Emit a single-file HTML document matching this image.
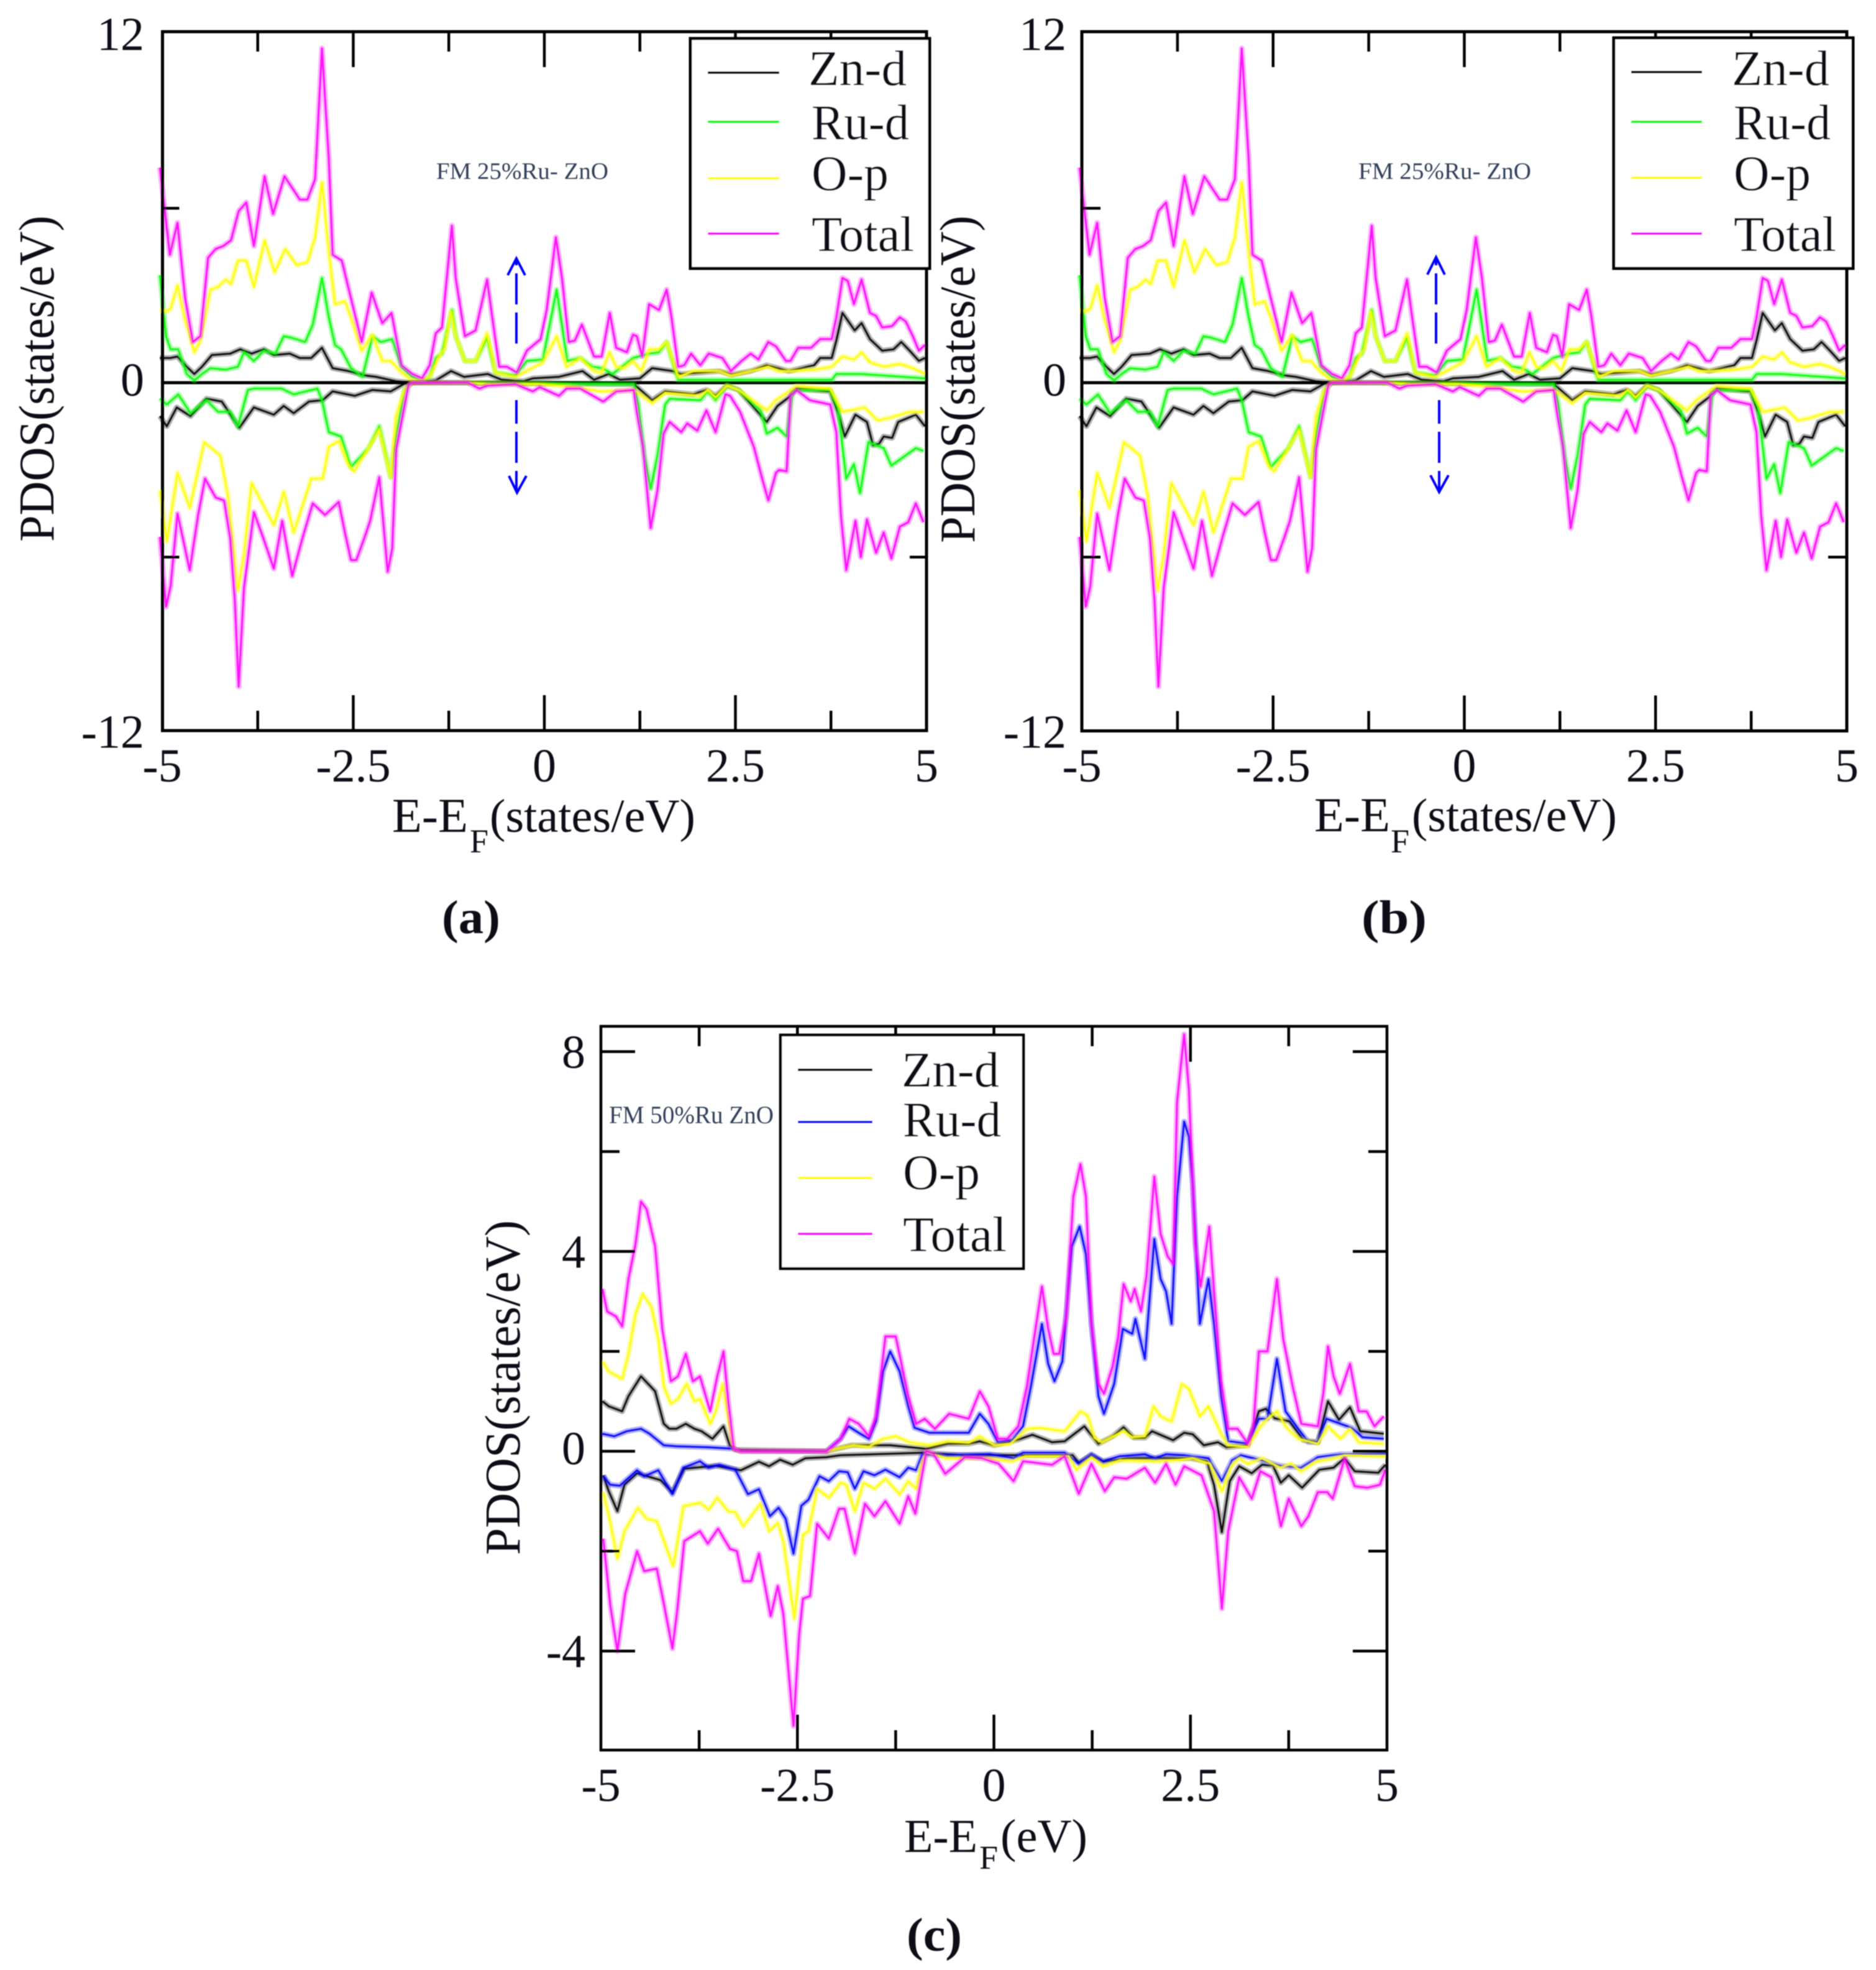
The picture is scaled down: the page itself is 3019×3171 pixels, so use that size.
<!DOCTYPE html>
<html lang="en">
<head>
<meta charset="utf-8">
<title>PDOS of Ru-doped ZnO</title>
<style>
html,body{margin:0;padding:0;background:#fff}
svg{display:block}
text{font-family:"Liberation Serif",serif;fill:#0a0a14}
</style>
</head>
<body>
<svg id="figure" xmlns="http://www.w3.org/2000/svg" width="3019" height="3171" viewBox="0 0 3019 3171">
<defs><filter id="soft" x="0" y="0" width="1" height="1" filterUnits="objectBoundingBox"><feGaussianBlur stdDeviation="0.9"/></filter></defs>
<rect width="3019" height="3171" fill="#fff"/>
<g id="root" filter="url(#soft)">
<g id="panel-a"></g>
<g id="panel-b"></g>
<g id="panel-c"></g>

<g fill="none" stroke="#0000ff" stroke-width="4">
<line x1="831" y1="553" x2="831" y2="418" stroke-dasharray="50 13"/>
<polyline points="817,443 831,416 845,443"/>
<line x1="831" y1="644" x2="831" y2="792" stroke-dasharray="38 13 50 13"/>
<polyline points="819,766 832,793 847,766"/>
</g>
<g fill="none" stroke="#0000ff" stroke-width="4">
<line x1="2311" y1="553" x2="2311" y2="416" stroke-dasharray="50 13"/>
<polyline points="2297,442 2311,414 2325,442"/>
<line x1="2316" y1="644" x2="2316" y2="791" stroke-dasharray="38 13 50 13"/>
<polyline points="2302,765 2316,792 2331,765"/>
</g>

<text x="702" y="288" font-size="38" textLength="277" lengthAdjust="spacingAndGlyphs" style="fill:#33405a">FM 25%Ru- ZnO</text>
<text x="2186" y="288" font-size="38" textLength="278" lengthAdjust="spacingAndGlyphs" style="fill:#33405a">FM 25%Ru- ZnO</text>
<text x="980" y="1808" font-size="40" textLength="265" lengthAdjust="spacingAndGlyphs" style="fill:#33405a">FM 50%Ru ZnO</text>

<text transform="translate(86,872) rotate(-90)" font-size="80" textLength="525" lengthAdjust="spacingAndGlyphs">PDOS(states/eV)</text>
<text transform="translate(1568,874) rotate(-90)" font-size="80" textLength="527" lengthAdjust="spacingAndGlyphs">PDOS(states/eV)</text>
<text transform="translate(836,2503) rotate(-90)" font-size="80" textLength="539" lengthAdjust="spacingAndGlyphs">PDOS(states/eV)</text>

<g>
<text x="631" y="1339" font-size="78" textLength="122" lengthAdjust="spacingAndGlyphs">E-E</text>
<text x="756" y="1372" font-size="54">F</text>
<text x="788" y="1339" font-size="76" textLength="331" lengthAdjust="spacingAndGlyphs">(states/eV)</text>
</g>
<g>
<text x="2115" y="1338" font-size="78" textLength="122" lengthAdjust="spacingAndGlyphs">E-E</text>
<text x="2238" y="1372" font-size="54">F</text>
<text x="2272" y="1338" font-size="76" textLength="330" lengthAdjust="spacingAndGlyphs">(states/eV)</text>
</g>
<g>
<text x="1455" y="2981" font-size="76" textLength="118" lengthAdjust="spacingAndGlyphs">E-E</text>
<text x="1576" y="3008" font-size="54">F</text>
<text x="1610" y="2981" font-size="76" textLength="140" lengthAdjust="spacingAndGlyphs">(eV)</text>
</g>

<text x="711" y="1502" font-size="76" font-weight="700" textLength="94" lengthAdjust="spacingAndGlyphs">(a)</text>
<text x="2191" y="1502" font-size="76" font-weight="700" textLength="105" lengthAdjust="spacingAndGlyphs">(b)</text>
<text x="1459" y="3140" font-size="76" font-weight="700" textLength="89" lengthAdjust="spacingAndGlyphs">(c)</text>

<g>
<rect x="1111" y="62" width="385" height="370" fill="#fff" stroke="#000" stroke-width="5"/>
<line x1="1139" x2="1254" y1="117" y2="117" stroke="#000" stroke-width="4"/>
<text x="1301" y="137" font-size="80" textLength="158" lengthAdjust="spacingAndGlyphs">Zn-d</text>
<line x1="1139" x2="1254" y1="196" y2="196" stroke="#00ff00" stroke-width="4"/>
<text x="1306" y="224" font-size="80" textLength="157" lengthAdjust="spacingAndGlyphs">Ru-d</text>
<line x1="1139" x2="1254" y1="287" y2="287" stroke="#ffff00" stroke-width="4"/>
<text x="1306" y="306" font-size="80" textLength="124" lengthAdjust="spacingAndGlyphs">O-p</text>
<line x1="1139" x2="1254" y1="376" y2="376" stroke="#ff00ff" stroke-width="4"/>
<text x="1306" y="404" font-size="80" textLength="165" lengthAdjust="spacingAndGlyphs">Total</text>
</g>
<g>
<rect x="2597" y="61" width="385" height="371" fill="#fff" stroke="#000" stroke-width="5"/>
<line x1="2625" x2="2739" y1="116" y2="116" stroke="#000" stroke-width="4"/>
<text x="2787" y="137" font-size="80" textLength="157" lengthAdjust="spacingAndGlyphs">Zn-d</text>
<line x1="2625" x2="2739" y1="196" y2="196" stroke="#00ff00" stroke-width="4"/>
<text x="2790" y="224" font-size="80" textLength="156" lengthAdjust="spacingAndGlyphs">Ru-d</text>
<line x1="2625" x2="2739" y1="286" y2="286" stroke="#ffff00" stroke-width="4"/>
<text x="2790" y="306" font-size="80" textLength="124" lengthAdjust="spacingAndGlyphs">O-p</text>
<line x1="2625" x2="2739" y1="376" y2="376" stroke="#ff00ff" stroke-width="4"/>
<text x="2790" y="404" font-size="80" textLength="165" lengthAdjust="spacingAndGlyphs">Total</text>
</g>
<g>
<rect x="1256" y="1666" width="391" height="376" fill="#fff" stroke="#000" stroke-width="4.5"/>
<line x1="1284" x2="1404" y1="1722" y2="1722" stroke="#000" stroke-width="4"/>
<text x="1451" y="1749" font-size="80" textLength="157" lengthAdjust="spacingAndGlyphs">Zn-d</text>
<line x1="1284" x2="1404" y1="1806" y2="1806" stroke="#0000ff" stroke-width="4"/>
<text x="1453" y="1829" font-size="80" textLength="158" lengthAdjust="spacingAndGlyphs">Ru-d</text>
<line x1="1284" x2="1404" y1="1896" y2="1896" stroke="#ffff00" stroke-width="4"/>
<text x="1453" y="1914" font-size="80" textLength="124" lengthAdjust="spacingAndGlyphs">O-p</text>
<line x1="1284" x2="1404" y1="1986" y2="1986" stroke="#ff00ff" stroke-width="4"/>
<text x="1453" y="2014" font-size="80" textLength="167" lengthAdjust="spacingAndGlyphs">Total</text>
</g>
</g>
</svg>

<script>
// ---------- Ticks ----------
const abXMajorTicks = [-2.5, 0, 2.5];
const abXMinorTicks = [-3.75, -1.25, 1.25, 3.75];
const abXTickLabels = ['-5', '-2.5', '0', '2.5', '5'];
const abXTickLabelValues = [-5, -2.5, 0, 2.5, 5];
const abYMinorTicks = [-6, 6];
const abYTickLabels = ['-12', '0', '12'];
const abYTickLabelValues = [-12, 0, 12];
const cXMajorTicks = [-2.5, 0, 2.5];
const cXMinorTicks = [-3.75, -1.25, 1.25, 3.75];
const cXTickLabels = ['-5', '-2.5', '0', '2.5', '5'];
const cXTickLabelValues = [-5, -2.5, 0, 2.5, 5];
const cYMajorTicks = [-4, 0, 4, 8];
const cYMinorTicks = [-2, 2, 6];
const cYTickLabels = ['-4', '0', '4', '8'];
const cYTickLabelValues = [-4, 0, 4, 8];

// ---------- Panels (a) and (b): 25% Ru, spin up ----------
const abZnUpE = [-5.03,-4.89,-4.8,-4.68,-4.58,-4.48,-4.35,-4.11,-3.98,-3.83,-3.67,-3.54,-3.33,-3.2,-3.05,-2.91,-2.77,-2.56,-2.35,-2.2,-1.94,-1.73,-1.42,-1.22,-1.05,-.74,-.56,-.27,-.15,.19,.5,.65,.84,.99,1.25,1.41,1.68,1.79,2.29,2.45,2.7,2.91,3.2,3.53,3.61,3.76,3.82,3.9,4.06,4.15,4.26,4.42,4.57,4.67,4.78,4.9,4.98];
const abZnUpV = [.85,.85,.9,.55,.3,.55,.95,1,1.15,1,1.15,.95,1,.85,.85,1.2,.5,.4,.25,.2,.05,0,.08,.4,.2,.3,.1,.05,.15,.2,.4,.1,.3,.1,.15,.5,.4,.3,.4,.28,.4,.6,.4,.6,.85,.85,1.45,2.4,1.8,2.05,1.5,1.1,1.15,1.4,1.1,.75,.85];
const abRuUpE = [-5.03,-4.95,-4.89,-4.79,-4.68,-4.58,-4.48,-4.37,-4.17,-4.01,-3.93,-3.8,-3.67,-3.52,-3.41,-3.31,-3.13,-3.03,-2.91,-2.82,-2.74,-2.66,-2.53,-2.38,-2.25,-2.14,-1.99,-1.87,-1.73,-1.6,-1.5,-1.42,-1.34,-1.21,-1.16,-1.04,-.9,-.75,-.64,-.38,-.23,-.02,.16,.3,.47,.63,.76,.89,1.16,1.37,1.5,1.6,1.75,3.76,3.82,4.15,4.98];
const abRuUpV = [3.7,1.6,1.15,1.15,.3,.08,.3,.5,.45,.55,1.05,.75,1.1,1,1.6,1.55,1.4,2,3.6,2.25,1.3,1.15,.5,.2,1.6,1.4,1.5,.55,.2,.08,.2,.85,1,2.5,1.6,.75,.75,1.55,.35,.25,.75,.8,3.2,.75,.85,.55,.5,.3,.85,1,1.05,1.4,.1,.1,.3,.3,.15];
const abOUpE = [-5.03,-4.95,-4.89,-4.8,-4.71,-4.58,-4.5,-4.37,-4.27,-4.17,-4.1,-4.01,-3.9,-3.8,-3.66,-3.53,-3.39,-3.24,-3.1,-3,-2.91,-2.82,-2.74,-2.61,-2.53,-2.39,-2.25,-2.12,-2.01,-1.87,-1.73,-1.6,-1.5,-1.39,-1.31,-1.22,-1.16,-1.04,-.9,-.75,-.64,-.38,-.02,.16,.29,.47,.65,.75,.85,.94,1.04,1.16,1.27,1.37,1.5,1.6,1.75,1.95,2.29,2.44,2.7,2.93,3.07,3.22,3.53,3.76,3.9,4.05,4.15,4.26,4.44,4.65,4.82,4.98];
const abOUpV = [2.5,2.45,2.55,3.35,2.25,1.05,1.45,3.2,3.3,3.55,3.4,4.2,4.2,3.3,4.9,3.8,4.6,4.05,4.15,5,6.9,4.5,2.7,2.8,2.25,1.1,1.65,.75,.75,.35,.08,.1,.2,.85,1.15,2.45,1.6,.75,.75,1.7,.35,.2,.7,1.6,.55,.85,.4,.35,1.05,.55,.5,.75,.4,1.15,1.15,1.4,.2,.4,.4,.25,.4,.55,.4,.4,.45,.55,.9,.8,1.05,.7,.55,.65,.5,.3];
const abTotalUpE = [-5.03,-4.9,-4.8,-4.7,-4.6,-4.5,-4.4,-4.3,-4.2,-4.1,-4,-3.9,-3.8,-3.66,-3.55,-3.4,-3.2,-3.1,-3,-2.91,-2.82,-2.77,-2.65,-2.53,-2.39,-2.26,-2.12,-2,-1.87,-1.73,-1.6,-1.5,-1.42,-1.34,-1.21,-1.16,-1.04,-.9,-.75,-.68,-.59,-.49,-.36,-.23,-.05,.03,.15,.23,.32,.4,.49,.65,.75,.855,.94,1.08,1.16,1.21,1.28,1.37,1.5,1.6,1.66,1.75,1.83,1.92,2.04,2.15,2.33,2.44,2.58,2.7,2.8,2.93,3.03,3.16,3.22,3.32,3.49,3.61,3.76,3.82,3.9,3.97,4.05,4.15,4.26,4.34,4.42,4.55,4.65,4.73,4.82,4.9,4.98];
const abTotalUpV = [7.4,4.4,5.5,2.9,1.4,1.6,4.3,4.6,4.7,4.9,5.9,6.2,4.7,7.1,5.8,7.1,6.3,6.3,7,11.5,7.7,4.4,4.2,2.9,1.4,3.1,2.05,2.4,.6,.3,.15,.6,1.7,1.9,5.4,3.6,1.6,1.8,3.55,2.2,.55,.55,.35,1.1,1.5,2.5,5,3.6,1.4,1.45,2,.9,.9,2.4,1.2,1.05,1.65,1.6,.9,2.7,2.5,3.2,2.3,.55,.6,1,.6,1,.85,.4,.75,1,.8,1.4,1.25,.75,.75,1.2,1.2,1.5,1.5,2.25,3.6,3.5,2.7,3.55,2.4,2.3,1.9,1.95,2.25,2.1,1.6,1.1,1.3];

// ---------- Panels (a) and (b): 25% Ru, spin down ----------
const abZnDownE = [-5.03,-4.94,-4.81,-4.63,-4.42,-4.22,-3.99,-3.8,-3.54,-3.41,-3.28,-3.08,-2.9,-2.77,-2.48,-2.25,-2.01,-1.83,-1.73,-1,1.17,1.41,1.58,1.95,2.12,2.24,2.39,2.54,2.91,3.05,3.2,3.3,3.74,3.84,3.93,4.07,4.22,4.3,4.38,4.44,4.55,4.63,4.86,4.98];
const abZnDownV = [-1.15,-1.5,-.85,-1.15,-.55,-.65,-1.55,-.85,-1.1,-.8,-1.05,-.65,-.6,-.3,-.45,-.25,-.3,-.03,0,0,-.05,-.6,-.3,-.4,-.25,-.45,-.1,-.25,-1.35,-.8,-.5,-.2,-.3,-1,-1.85,-1.1,-1.35,-2.15,-2.1,-1.85,-1.9,-1.35,-1.1,-1.5];
const abRuDownE = [-5.03,-4.94,-4.79,-4.63,-4.42,-4.27,-4.11,-4.01,-3.88,-3.8,-3.44,-3.28,-2.97,-2.91,-2.82,-2.66,-2.53,-2.3,-2.16,-2.01,-1.94,-1.83,-1.73,.0,1.17,1.23,1.31,1.39,1.48,1.58,1.64,2.04,2.14,2.24,2.39,2.54,2.83,2.91,3.05,3.17,3.25,3.74,3.84,3.95,4.05,4.13,4.24,4.44,4.54,4.86,4.96];
const abRuDownV = [-.55,-.75,-.4,-1.05,-.6,-1,-1,-1.5,-.25,-.2,-.2,-.4,-.2,-.6,-1.7,-1.85,-2.9,-2.25,-1.5,-3.25,-1.8,-.25,0,-.03,-.05,-.75,-2.5,-3.65,-2.5,-.75,-.55,-.6,-.3,-.6,-.1,-.25,-.95,-1.75,-1.55,-1.85,-.25,-.25,-.85,-3.3,-2.8,-3.8,-2.05,-2.25,-2.85,-2.25,-2.35];
const abODownE = [-5.03,-4.94,-4.8,-4.64,-4.45,-4.24,-4.14,-4.01,-3.93,-3.83,-3.54,-3.41,-3.28,-3.05,-2.9,-2.82,-2.69,-2.56,-2.49,-2.3,-2.16,-2.01,-1.94,-1.83,-1.73,-1,-.7,-.1,.3,.75,1.17,1.41,1.58,2.04,2.14,2.24,2.39,2.54,2.91,3.03,3.2,3.3,3.74,3.9,4.19,4.36,4.53,4.78,4.96];
const abODownV = [-3.7,-5.45,-3.1,-4.3,-2.05,-2.5,-3.9,-7.15,-5.9,-3.45,-4.9,-3.75,-5.15,-3.3,-3.3,-2.2,-2,-2.85,-3.05,-2.25,-1.6,-3.25,-1.15,-.25,0,0,-.05,-.05,-.12,-.3,-.25,-.7,-.35,-.45,-.25,-.5,-.1,-.25,-.95,-.6,-.3,-.12,-.2,-1,-.85,-1.3,-1.2,-1,-1];
const abTotalDownE = [-5.03,-4.95,-4.89,-4.8,-4.64,-4.53,-4.44,-4.3,-4.19,-4.11,-4.05,-4,-3.93,-3.8,-3.67,-3.54,-3.43,-3.3,-3.16,-3.03,-2.87,-2.69,-2.61,-2.53,-2.46,-2.35,-2.28,-2.16,-2.05,-1.99,-1.94,-1.86,-1.78,-1.73,-1,-.85,-.75,-.38,-.15,-.06,.19,.29,.47,.77,.94,1.17,1.21,1.29,1.39,1.48,1.56,1.64,1.79,1.87,2,2.12,2.24,2.37,2.43,2.56,2.74,2.85,2.93,3.03,3.07,3.17,3.22,3.3,3.47,3.74,3.82,3.88,3.95,4.07,4.14,4.22,4.34,4.44,4.54,4.65,4.76,4.86,4.96];
const abTotalDownV = [-5.3,-7.7,-7,-4.5,-6.45,-4.55,-3.3,-3.95,-4.05,-5.35,-7.5,-10.45,-7.05,-4.45,-5.4,-6.4,-4.75,-6.65,-5.3,-4.15,-4.55,-4.1,-5.15,-6.1,-6.1,-5.3,-4.75,-3.25,-6.5,-5.7,-2.3,-1.2,-.1,0,0,-.2,-.1,-.05,-.3,-.15,-.45,-.2,-.2,-.65,-.3,-.25,-1,-2.2,-5,-3.7,-1.75,-1.35,-1.7,-1.4,-1.65,-.95,-1.7,-.4,-.45,-1,-2.2,-3.3,-4.05,-3.1,-3,-3.05,-.45,-.25,-.6,-.75,-1.7,-4.55,-6.45,-4.75,-6,-4.7,-5.85,-5.15,-6.05,-4.95,-4.8,-4.15,-4.8];

// ---------- Panel (c): 50% Ru, spin up ----------
const cZnUpE = [-4.98,-4.9,-4.73,-4.65,-4.49,-4.31,-4.2,-4.13,-4.04,-3.92,-3.81,-3.72,-3.58,-3.44,-3.36,-3.29,-2.13,-1.81,-1.32,-.86,-.59,-.32,-.18,0,.28,.49,.74,.9,1.15,1.33,1.51,1.65,1.78,1.92,2.01,2.28,2.42,2.53,2.67,2.85,2.96,3.23,3.37,3.46,3.57,3.76,3.94,4.12,4.25,4.39,4.53,4.66,4.96];
const cZnUpV = [1,.9,.8,1.1,1.5,1.2,.55,.45,.45,.55,.45,.4,.25,.5,.12,.03,0,.12,.12,.05,.15,.15,.2,.12,.22,.33,.18,.2,.5,.15,.3,.48,.27,.27,.4,.22,.37,.34,.12,.18,.08,.12,.8,.85,.66,.6,.22,.18,1,.63,.88,.4,.35];
const cRuUpE = [-4.98,-4.83,-4.67,-4.49,-4.38,-4.2,-4.04,-3.63,-3.31,-3.22,-2.13,-1.95,-1.85,-1.72,-1.59,-1.5,-1.41,-1.32,-1.2,-1.09,-1.01,-.82,-.32,-.18,-.07,.05,.23,.37,.47,.61,.69,.77,.87,.99,1.09,1.17,1.24,1.33,1.4,1.53,1.64,1.76,1.8,1.92,2.04,2.12,2.19,2.26,2.33,2.42,2.48,2.53,2.62,2.73,2.8,2.89,2.98,3.23,3.37,3.48,3.6,3.71,3.87,4,4.12,4.23,4.55,4.69,4.96];
const cRuUpV = [.35,.3,.4,.45,.35,.12,.1,.08,.05,0,0,.25,.5,.37,.25,.6,1.6,2,1.6,.9,.47,.37,.37,.75,.55,.18,.22,.5,1.3,2.55,1.75,1.4,1.8,4.1,4.5,3.95,2.55,1.1,.75,1.35,2.45,2.35,2.65,1.85,4.25,3.45,3.2,2.55,5.1,6.6,6.3,5.35,2.55,3.45,2.55,1.1,.2,.15,.65,.65,1.85,.8,.45,.18,.18,.65,.47,.28,.25];
const cOUpE = [-4.98,-4.9,-4.73,-4.65,-4.56,-4.47,-4.36,-4.27,-4.2,-4.11,-4.02,-3.91,-3.81,-3.74,-3.61,-3.54,-3.45,-3.38,-3.31,-3.22,-2.13,-2,-1.79,-1.59,-1.41,-1.25,-1.07,-.82,-.59,-.32,-.18,0,.21,.42,.58,.9,1.1,1.19,1.28,1.37,1.58,1.65,1.76,1.92,2.03,2.12,2.26,2.39,2.48,2.62,2.73,2.89,2.98,3.23,3.39,3.48,3.6,3.71,3.87,4.12,4.25,4.41,4.53,4.64,4.96];
const cOUpV = [1.8,1.6,1.45,1.95,2.75,3.15,2.9,2.25,1.3,.95,1.05,1.35,1,1.05,.55,.8,1.35,.65,.05,0,0,.05,.12,.09,.25,.3,.18,.12,.2,.17,.3,.12,.15,.45,.47,.4,.8,.72,.27,.18,.35,.4,.28,.3,.9,.7,.6,1.35,1.25,.7,.9,.35,.12,.09,.5,.65,.8,.5,.25,.15,.5,.25,.45,.18,.15];
const cTotalUpE = [-4.98,-4.92,-4.81,-4.73,-4.65,-4.56,-4.49,-4.42,-4.31,-4.22,-4.11,-4.02,-3.92,-3.83,-3.74,-3.61,-3.52,-3.44,-3.38,-3.31,-3.22,-2.13,-1.95,-1.84,-1.72,-1.59,-1.5,-1.38,-1.25,-1.09,-.99,-.88,-.75,-.57,-.32,-.18,-.07,.05,.17,.31,.42,.51,.61,.69,.76,.83,.92,1.01,1.1,1.17,1.24,1.33,1.4,1.51,1.58,1.65,1.74,1.79,1.87,1.94,2.04,2.12,2.21,2.28,2.33,2.42,2.48,2.56,2.63,2.74,2.8,2.89,2.98,3.1,3.23,3.3,3.37,3.48,3.6,3.68,3.8,3.91,4.12,4.19,4.25,4.32,4.4,4.53,4.64,4.74,4.84,4.96];
const cTotalUpV = [3.25,2.8,2.7,2.5,3.45,4.15,5,4.85,4.1,2.45,1.4,1.5,1.95,1.4,1.5,.8,1.5,2,1,.05,0,0,.25,.65,.55,.3,.7,2.3,2.3,1.1,.55,.65,.45,.75,.65,1.2,.9,.25,.25,.5,1.3,2.25,3.3,2.45,1.95,1.95,2.7,5.1,5.75,5.1,2.55,1.35,1.15,1.7,2.3,3.35,3,3.25,2.8,3.5,5.5,4.35,3.9,3.75,7,8.35,7.25,4.15,3.3,4.5,3.2,1.4,.45,.45,.15,.5,2,2,3.45,2.25,1.3,.55,.5,1.15,2.1,1.5,1.15,1.75,.8,.8,.5,.7];

// ---------- Panel (c): 50% Ru, spin down ----------
const cZnDownE = [-4.97,-4.9,-4.79,-4.7,-4.54,-4.24,-4.09,-3.94,-3.54,-3.22,-2.99,-2.86,-2.72,-2.56,-2.4,-2.13,-1.95,-.9,-.4,.1,1,1.08,1.24,1.39,1.69,2.5,2.71,2.8,2.9,3,3.12,3.28,3.41,3.55,3.65,3.75,3.92,4.14,4.32,4.46,4.59,4.89,4.98];
const cZnDownV = [-.48,-.8,-1.2,-.67,-.44,-.58,-.82,-.35,-.29,-.38,-.21,-.3,-.17,-.27,-.14,-.12,-.08,-.03,-.08,-.08,-.08,-.23,-.08,-.21,-.14,-.14,-.2,-.67,-1.62,-.6,-.3,-.44,-.27,-.29,-.63,-.48,-.73,-.37,-.33,-.14,-.4,-.43,-.27];
const cRuDownE = [-4.97,-4.88,-4.76,-4.54,-4.45,-4.27,-4.09,-3.95,-3.74,-3.63,-3.49,-3.29,-3.13,-2.99,-2.85,-2.74,-2.65,-2.55,-2.45,-2.36,-2.22,-2.1,-1.97,-1.86,-1.77,-1.66,-1.52,-1.38,-1.2,-1.09,-.99,-.91,-.6,-.05,.25,.37,.9,1.08,1.24,1.39,1.6,1.92,2.05,2.19,2.42,2.73,2.9,3.03,3.14,3.41,3.64,3.91,4.12,4.41,4.98];
const cRuDownV = [-.5,-.67,-.69,-.38,-.5,-.38,-.86,-.33,-.2,-.33,-.27,-.37,-.86,-.76,-1.3,-1.13,-1.35,-2.05,-1.09,-.97,-.5,-.6,-.4,-.42,-.75,-.4,-.48,-.37,-.52,-.33,-.38,-.06,-.08,-.06,-.14,-.03,-.03,-.25,-.06,-.2,-.1,-.06,-.14,-.06,-.08,-.14,-.6,-.18,-.08,-.18,-.29,-.33,-.12,-.06,-.05];
const cODownE = [-4.97,-4.88,-4.79,-4.7,-4.53,-4.42,-4.29,-4.08,-3.95,-3.74,-3.63,-3.52,-3.38,-3.29,-3.19,-2.97,-2.86,-2.75,-2.68,-2.54,-2.43,-2.36,-2.25,-2.1,-1.95,-1.88,-1.77,-1.66,-1.52,-1.38,-1.2,-1.09,-.99,-.93,-.86,-.6,-.1,.23,.4,.95,1.05,1.24,1.39,1.6,2.06,2.3,2.53,2.75,2.9,3.02,3.12,3.23,3.41,3.64,3.78,3.91,4.09,4.32,4.46,4.98];
const cODownV = [-.82,-1.43,-2.15,-1.6,-1.13,-1.35,-1.4,-2.3,-1.1,-1.03,-1.17,-.93,-1.2,-1.22,-1.5,-1.05,-1.6,-1.43,-1.8,-3.35,-1.67,-1.6,-.75,-.93,-.63,-.67,-1.2,-.63,-.75,-.55,-.86,-.6,-.75,-.3,-.02,-.14,-.14,-.2,-.1,-.1,-.37,-.12,-.3,-.18,-.2,-.18,-.14,-.25,-.8,-.29,-.14,-.25,-.14,-.33,-.25,-.4,-.21,-.14,-.08,-.1];
const cTotalDownE = [-4.97,-4.88,-4.79,-4.69,-4.54,-4.45,-4.29,-4.2,-4.09,-4.03,-3.94,-3.74,-3.64,-3.51,-3.36,-3.27,-3.19,-3.09,-2.99,-2.84,-2.75,-2.68,-2.55,-2.48,-2.43,-2.34,-2.25,-2.1,-1.97,-1.9,-1.77,-1.64,-1.52,-1.38,-1.2,-1.09,-1,-.93,-.86,-.77,-.62,-.37,-.15,.06,.25,.37,.74,.9,1.08,1.24,1.41,1.53,1.69,1.92,2.05,2.19,2.31,2.42,2.64,2.8,2.9,2.98,3.12,3.28,3.39,3.53,3.65,3.75,3.91,4,4.12,4.24,4.31,4.46,4.59,4.75,4.91,4.98];
const cTotalDownV = [-1.75,-3.1,-4,-2.85,-2,-2.4,-2.35,-3.05,-3.95,-3.2,-1.8,-1.6,-1.85,-1.55,-1.95,-2,-2.6,-2.6,-2.05,-3.3,-2.7,-3.25,-5.5,-3.7,-2.95,-2.9,-1.45,-1.75,-1.15,-1.15,-2.05,-1.05,-1.3,-1,-1.45,-.9,-1.25,-.6,0,-.05,-.45,-.12,-.14,-.25,-.6,-.2,-.27,-.1,-.85,-.25,-.8,-.52,-.55,-.33,-.63,-.25,-.67,-.3,-.48,-1.2,-3.15,-1.6,-.52,-.95,-.4,-.52,-1.5,-.95,-1.5,-1.3,-.82,-.82,-.95,-.15,-.7,-.73,-.67,-.37];

// ---------- Drawing ----------
const SVG_NS = 'http://www.w3.org/2000/svg';
function make(tag, attrs, parent) {
  const node = document.createElementNS(SVG_NS, tag);
  for (const key in attrs) node.setAttribute(key, attrs[key]);
  parent.appendChild(node);
  return node;
}
function xAxis(panel) { return e => panel.zeroX + e * panel.unitX; }
function yAxis(panel) { return v => panel.zeroY - v * panel.unitY; }

function drawCurve(parent, panel, energies, values, color, name) {
  const x = xAxis(panel), y = yAxis(panel);
  const n = Math.min(energies.length, values.length);
  const pts = [];
  for (let i = 0; i < n; i++) pts.push(x(energies[i]).toFixed(1) + ',' + y(values[i]).toFixed(1));
  const group = make('g', {}, parent);
  
  
  const halo = make('polyline', {points: pts.join(' '), fill: 'none', stroke: color, 'stroke-width': 9, 'stroke-opacity': 0.3, 'stroke-linejoin': 'round'}, group);
  
  
  const core = make('polyline', {points: pts.join(' '), fill: 'none', stroke: color, 'stroke-width': 3, 'stroke-opacity': 0.9, 'stroke-linejoin': 'round'}, group);
  
  
}

function drawFrame(parent, panel, xMajor, xMinor, yMajor, yMinor, xLabels, xLabelValues, yLabels, yLabelValues) {
  const x = xAxis(panel), y = yAxis(panel);
  const tick = (x1, y1, x2, y2, name) => {
    const t = make('line', {x1: x1, y1: y1, x2: x2, y2: y2, stroke: '#000', 'stroke-width': 4.5}, parent);
    
    
  };
  xMajor.forEach(e => {
    tick(x(e), panel.top, x(e), panel.top + panel.xMajorLen, 'x-major-tick-top');
    tick(x(e), panel.bottom, x(e), panel.bottom - panel.xMajorLen, 'x-major-tick-bottom');
  });
  xMinor.forEach(e => {
    tick(x(e), panel.top, x(e), panel.top + panel.xMinorLen, 'x-minor-tick-top');
    tick(x(e), panel.bottom, x(e), panel.bottom - panel.xMinorLen, 'x-minor-tick-bottom');
  });
  yMajor.forEach(v => {
    tick(panel.left, y(v), panel.left + panel.yMajorLen, y(v), 'y-major-tick-left');
    tick(panel.right, y(v), panel.right - panel.yMajorLen, y(v), 'y-major-tick-right');
  });
  yMinor.forEach(v => {
    tick(panel.left, y(v), panel.left + panel.yMinorLen, y(v), 'y-minor-tick-left');
    tick(panel.right, y(v), panel.right - panel.yMinorLen, y(v), 'y-minor-tick-right');
  });
  const frame = make('rect', {x: panel.left, y: panel.top, width: panel.right - panel.left, height: panel.bottom - panel.top, fill: 'none', stroke: '#000', 'stroke-width': panel.frameWidth}, parent);
  
  
  xLabels.forEach((label, i) => {
    const t = make('text', {x: x(xLabelValues[i]), y: panel.xLabelY, 'font-size': 76, 'text-anchor': 'middle'}, parent);
    
    
    t.textContent = label;
  });
  yLabels.forEach((label, i) => {
    const v = yLabelValues[i];
    const t = make('text', {x: panel.yLabelX, y: y(v) + (v === 0 ? 21 : 26), 'font-size': 76, 'text-anchor': 'end'}, parent);
    
    
    t.textContent = label;
  });
}

const panelA = {left: 261.5, right: 1491, top: 51, bottom: 1176, zeroX: 876, unitX: 123, zeroY: 616, unitY: 46.8,
  xMajorLen: 57, xMinorLen: 32, yMajorLen: 50, yMinorLen: 27, frameWidth: 5, xLabelY: 1258, yLabelX: 232};
const panelB = {left: 1741, right: 2972, top: 51, bottom: 1176.5, zeroX: 2356.5, unitX: 123.1, zeroY: 616, unitY: 46.8,
  xMajorLen: 57, xMinorLen: 32, yMajorLen: 50, yMinorLen: 30, frameWidth: 5, xLabelY: 1258, yLabelX: 1716};
const panelC = {left: 967, right: 2232, top: 1652, bottom: 2817, zeroX: 1599.5, unitX: 126.5, zeroY: 2336, unitY: 80.4,
  xMajorLen: 57, xMinorLen: 32, yMajorLen: 55, yMinorLen: 30, frameWidth: 4.5, xLabelY: 2899, yLabelX: 942};

function drawAB(groupId, panel) {
  const g = document.getElementById(groupId);
  const x = xAxis(panel), y = yAxis(panel);
  const zero = make('line', {x1: x(-5), x2: x(5), y1: y(0), y2: y(0), stroke: '#000', 'stroke-width': 5}, g);
  
  
  drawCurve(g, panel, abZnUpE, abZnUpV, '#000000', 'zn-d-spin-up');
  drawCurve(g, panel, abRuUpE, abRuUpV, '#00ff00', 'ru-d-spin-up');
  drawCurve(g, panel, abOUpE, abOUpV, '#ffff00', 'o-p-spin-up');
  drawCurve(g, panel, abZnDownE, abZnDownV, '#000000', 'zn-d-spin-down');
  drawCurve(g, panel, abRuDownE, abRuDownV, '#00ff00', 'ru-d-spin-down');
  drawCurve(g, panel, abODownE, abODownV, '#ffff00', 'o-p-spin-down');
  drawCurve(g, panel, abTotalUpE, abTotalUpV, '#ff00ff', 'total-spin-up');
  drawCurve(g, panel, abTotalDownE, abTotalDownV, '#ff00ff', 'total-spin-down');
  drawFrame(g, panel, abXMajorTicks, abXMinorTicks, [], abYMinorTicks, abXTickLabels, abXTickLabelValues, abYTickLabels, abYTickLabelValues);
}
drawAB('panel-a', panelA);
drawAB('panel-b', panelB);

const groupC = document.getElementById('panel-c');
drawCurve(groupC, panelC, cZnUpE, cZnUpV, '#000000', 'zn-d-spin-up');
drawCurve(groupC, panelC, cRuUpE, cRuUpV, '#0000ff', 'ru-d-spin-up');
drawCurve(groupC, panelC, cOUpE, cOUpV, '#ffff00', 'o-p-spin-up');
drawCurve(groupC, panelC, cZnDownE, cZnDownV, '#000000', 'zn-d-spin-down');
drawCurve(groupC, panelC, cRuDownE, cRuDownV, '#0000ff', 'ru-d-spin-down');
drawCurve(groupC, panelC, cODownE, cODownV, '#ffff00', 'o-p-spin-down');
drawCurve(groupC, panelC, cTotalUpE, cTotalUpV, '#ff00ff', 'total-spin-up');
drawCurve(groupC, panelC, cTotalDownE, cTotalDownV, '#ff00ff', 'total-spin-down');
drawFrame(groupC, panelC, cXMajorTicks, cXMinorTicks, cYMajorTicks, cYMinorTicks, cXTickLabels, cXTickLabelValues, cYTickLabels, cYTickLabelValues);
</script>
</body>
</html>
